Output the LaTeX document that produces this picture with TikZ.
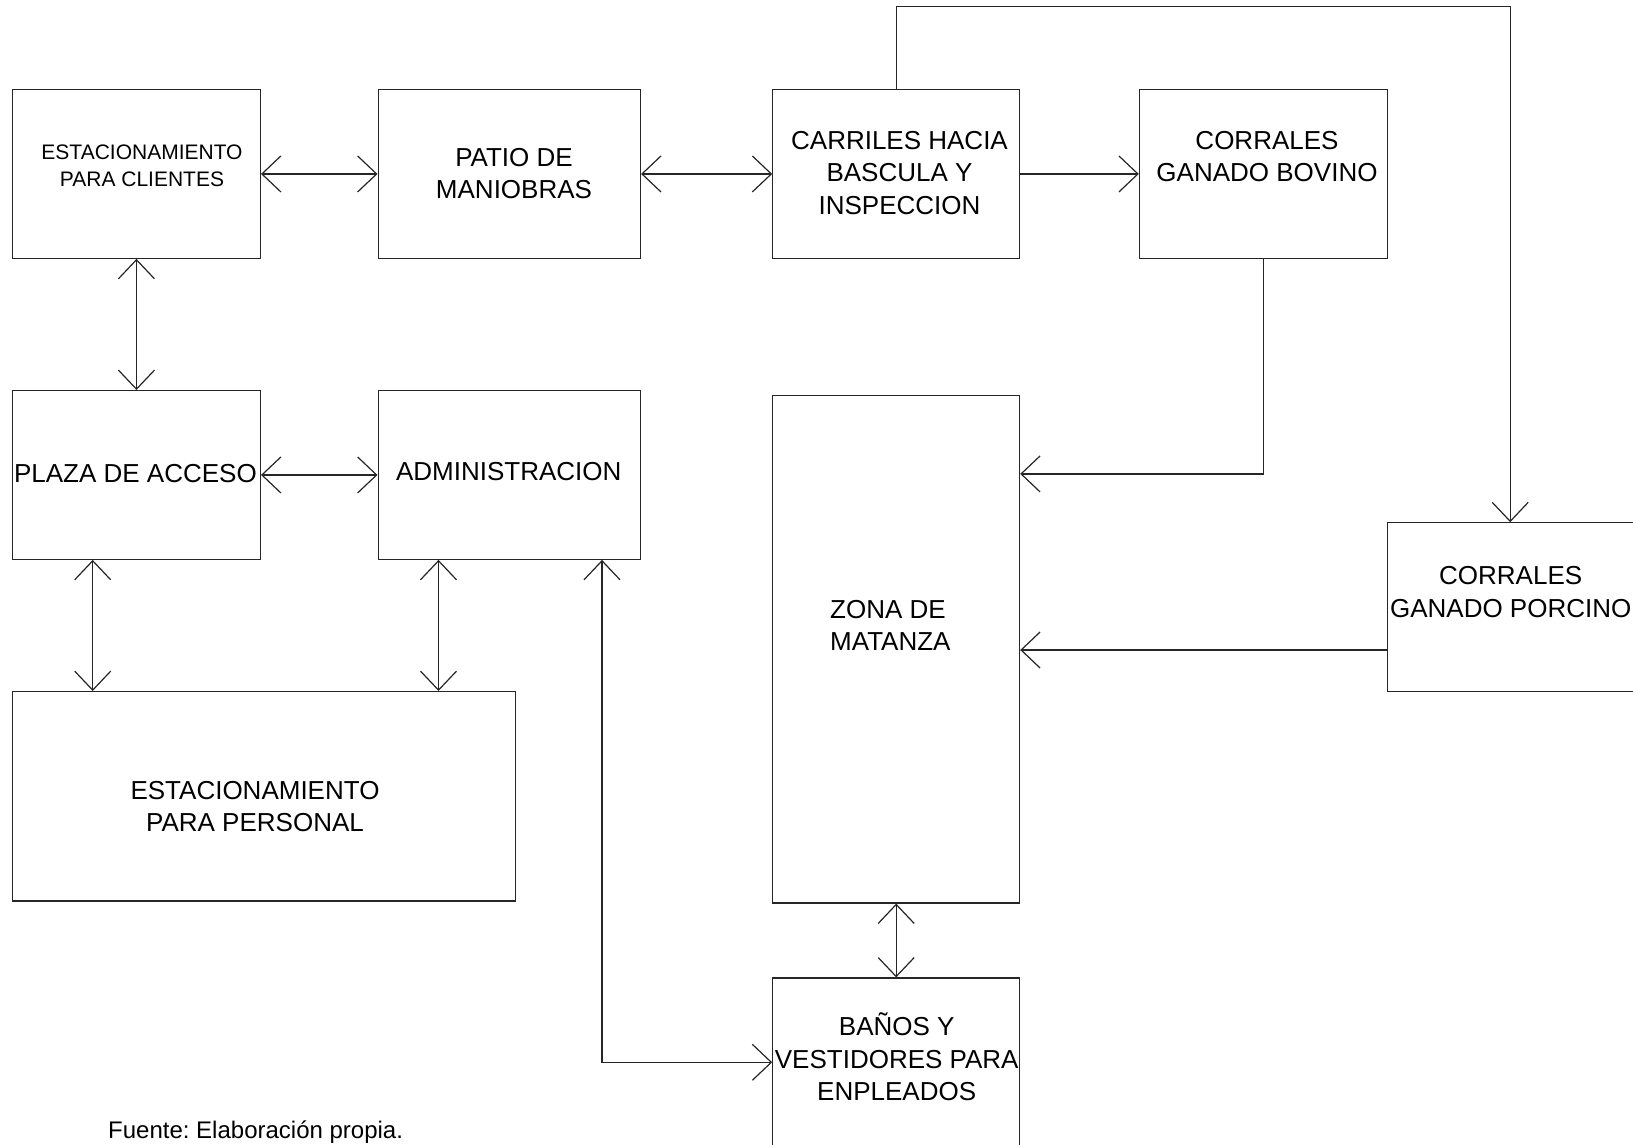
\documentclass[tikz,border=0pt]{standalone}
\usepackage{fontspec}
\setmainfont{Liberation Sans}
\usetikzlibrary{arrows.meta}
\frenchspacing

\begin{document}
\begin{tikzpicture}[x=1pt,y=-1pt,
  box/.style={draw=black!85, line width=1.2pt, inner sep=0pt},
  lbl/.style={font=\fontsize{26}{32.3}\selectfont, align=center, inner sep=0pt},
  smalllbl/.style={font=\fontsize{21}{27}\selectfont, align=center, inner sep=0pt},
  link/.style={draw=black!85, line width=1.2pt},
  >={Straight Barb[length=19pt,width=36pt]}]

% page
\fill[white] (0,0) rectangle (1633,1145);
\useasboundingbox (0,0) rectangle (1633,1145);

% areas
\node[box, minimum width=247.9pt, minimum height=168.7pt] (ec)    at (136.45,173.95) {};
\node[box, minimum width=262.4pt, minimum height=168.7pt] (patio) at (509.3,173.95) {};
\node[box, minimum width=246.8pt, minimum height=168.7pt] (carr)  at (896.2,173.95) {};
\node[box, minimum width=247.9pt, minimum height=168.7pt] (bov)   at (1263.35,173.95) {};
\node[box, minimum width=247.9pt, minimum height=168.7pt] (plaza) at (136.45,474.95) {};
\node[box, minimum width=262.4pt, minimum height=168.7pt] (admin) at (509.3,474.95) {};
\node[box, minimum width=503pt,   minimum height=209.3pt] (pers)  at (264,796.25) {};
\node[box, minimum width=246.8pt, minimum height=507.2pt] (zona)  at (896.2,649.4) {};
\node[box, minimum width=262.7pt, minimum height=168.8pt] (porc)  at (1518.65,607.2) {};
\node[box, minimum width=246.8pt, minimum height=187pt]   (banos) at (896.2,1071.5) {};

% labels
\node[smalllbl] (ecT) at (142,165.5) {ESTACIONAMIENTO\\PARA CLIENTES};
\node[lbl] (patioT) at (514,173.4) {PATIO DE\\MANIOBRAS};
\node[lbl] (carrT) at (899.5,172.9) {CARRILES HACIA\\BASCULA Y\\INSPECCION};
\node[lbl] (bovT) at (1267,156.7) {CORRALES\\GANADO BOVINO};
\node[lbl] (plazaT) at (135.4,474) {PLAZA DE ACCESO};
\node[lbl] (adminT) at (508.8,471.8) {ADMINISTRACION};
\node[lbl] (persT) at (255,806.6) {ESTACIONAMIENTO\\PARA PERSONAL};
\node[lbl, align=left, anchor=west] (zonaT) at (830,625.4) {ZONA DE\\MATANZA};
\node[lbl] (porcT) at (1510.7,592.1) {CORRALES\\GANADO PORCINO};
\node[lbl] (banosT) at (896.7,1057) {BAÑOS Y\\VESTIDORES PARA\\ENPLEADOS};

% routing columns and rows
\coordinate (cPlz) at (92.7,0);
\coordinate (cAdm) at (438.5,0);
\coordinate (cAdB) at (602,0);
\coordinate (cPor) at (1510.2,0);
\coordinate (rTop) at (0,6.2);
\coordinate (rBov) at (0,473.9);
\coordinate (rPor) at (0,650);
\coordinate (rBan) at (0,1062.3);

% connections
\draw[link,<->] (ec.east) -- (patio.west);
\draw[link,<->] (patio.east) -- (carr.west);
\draw[link,->] (carr.east) -- (bov.west);
\draw[link,<->] (ec.south) -- (plaza.north);
\draw[link,<->] (plaza.east) -- (admin.west);
\draw[link,<->] (plaza.south -| cPlz) -- (pers.north -| cPlz);
\draw[link,<->] (admin.south -| cAdm) -- (pers.north -| cAdm);
\draw[link,<->] (admin.south -| cAdB) |- (banos.west |- rBan);
\draw[link,<->] (zona.south) -- (banos.north);
\draw[link,->] (carr.north) -- (carr.north |- rTop) -| (porc.north -| cPor);
\draw[link,->] (bov.south) |- (zona.east |- rBov);
\draw[link,->] (porc.west |- rPor) -- (zona.east |- rPor);

% source note
\node[font=\fontsize{24}{28}\selectfont, anchor=base west, inner sep=0pt] (src) at (108,1138) {Fuente: Elaboración propia.};
\end{tikzpicture}
\end{document}
